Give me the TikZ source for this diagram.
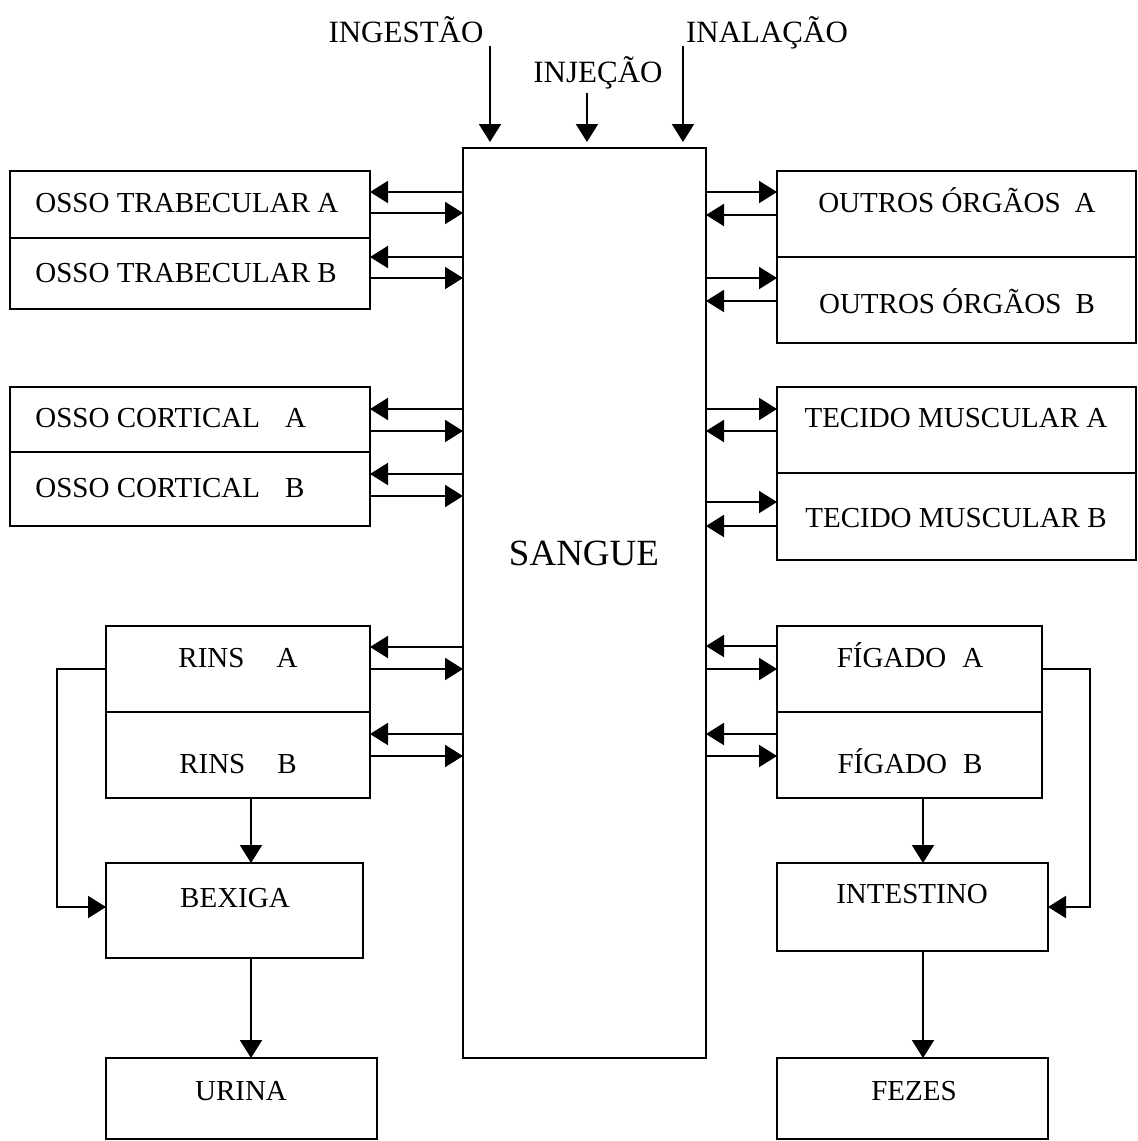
\documentclass[tikz,border=0pt]{standalone}
\usepackage{fontspec}
\setmainfont{Liberation Serif}
\usetikzlibrary{arrows.meta,fit}
\begin{document}
\begin{tikzpicture}[x=0.5pt,y=-0.5pt,
  box/.style={draw,line width=1pt,inner sep=0pt,outer sep=0pt},
  lbl/.style={inner sep=0pt,anchor=base,font=\fontsize{14.5}{17}\selectfont},
  lblw/.style={lbl,anchor=base west},
  toplbl/.style={inner sep=0pt,anchor=base,font=\fontsize{15.5}{18}\selectfont},
  arr/.style={line width=1pt,-{Triangle[length=9pt,width=11pt]}},
  plain/.style={line width=1pt}]
\useasboundingbox (0,0) rectangle (1138,1141);

% boxes
\node[box,fit={(463,148) (706,1058)}] (sangue) {};
\node[box,fit={(10,171) (370,238)}] (otA) {};
\node[box,fit={(10,238) (370,309)}] (otB) {};
\node[box,fit={(10,387) (370,452)}] (ocA) {};
\node[box,fit={(10,452) (370,526)}] (ocB) {};
\node[box,fit={(106,626) (370,712)}] (rA) {};
\node[box,fit={(106,712) (370,798)}] (rB) {};
\node[box,fit={(106,863) (363,958)}] (bex) {};
\node[box,fit={(106,1058) (377,1139)}] (uri) {};
\node[box,fit={(777,171) (1136,257)}] (ooA) {};
\node[box,fit={(777,257) (1136,343)}] (ooB) {};
\node[box,fit={(777,387) (1136,473)}] (tmA) {};
\node[box,fit={(777,473) (1136,560)}] (tmB) {};
\node[box,fit={(777,626) (1042,712)}] (fA) {};
\node[box,fit={(777,712) (1042,798)}] (fB) {};
\node[box,fit={(777,863) (1048,951)}] (int) {};
\node[box,fit={(777,1058) (1048,1139)}] (fez) {};

% labels
\node[toplbl] (tIng) at (406,42) {INGESTÃO};
\node[toplbl] (tInj) at (598,82) {INJEÇÃO};
\node[toplbl] (tIna) at (767,42) {INALAÇÃO};
\node[inner sep=0pt,anchor=base,font=\fontsize{18.5}{22}\selectfont] (tSang) at (584,565) {SANGUE};
\node[lblw] (tOtA) at (35,212) {OSSO TRABECULAR A};
\node[lblw] (tOtB) at (35,282) {OSSO TRABECULAR B};
\node[lblw] (tOcA) at (35,427) {OSSO CORTICAL\hspace{12.5pt}A};
\node[lblw] (tOcB) at (35,497) {OSSO CORTICAL\hspace{12.5pt}B};
\node[lbl] (tRA) at (238,667) {RINS\hspace{16pt}A};
\node[lbl] (tRB) at (238,773) {RINS\hspace{16pt}B};
\node[lbl] (tBex) at (235,907) {BEXIGA};
\node[lbl] (tUri) at (241,1100) {URINA};
\node[lbl] (tOoA) at (957,212) {OUTROS ÓRGÃOS\hspace{7pt}A};
\node[lbl] (tOoB) at (957,313) {OUTROS ÓRGÃOS\hspace{7pt}B};
\node[lbl] (tTmA) at (956,427) {TECIDO MUSCULAR A};
\node[lbl] (tTmB) at (956,527) {TECIDO MUSCULAR B};
\node[lbl] (tFA) at (910,667) {FÍGADO\hspace{8pt}A};
\node[lbl] (tFB) at (910,773) {FÍGADO\hspace{8pt}B};
\node[lbl] (tInt) at (912,903) {INTESTINO};
\node[lbl] (tFez) at (914,1100) {FEZES};

% intake arrows
\coordinate (cIng) at (490,46);
\coordinate (cInj) at (587,93);
\coordinate (cIna) at (683,46);
\draw[arr,shorten >=3pt] (cIng) -- (sangue.north -| cIng);
\draw[arr,shorten >=3pt] (cInj) -- (sangue.north -| cInj);
\draw[arr,shorten >=3pt] (cIna) -- (sangue.north -| cIna);

% left exchanges
\draw[arr] (sangue.west |- 0,192) -- (otA.east |- 0,192);
\draw[arr] (otA.east |- 0,213) -- (sangue.west |- 0,213);
\draw[arr] (sangue.west |- 0,257) -- (otB.east |- 0,257);
\draw[arr] (otB.east |- 0,278) -- (sangue.west |- 0,278);
\draw[arr] (sangue.west |- 0,409) -- (ocA.east |- 0,409);
\draw[arr] (ocA.east |- 0,431) -- (sangue.west |- 0,431);
\draw[arr] (sangue.west |- 0,474) -- (ocB.east |- 0,474);
\draw[arr] (ocB.east |- 0,496) -- (sangue.west |- 0,496);
\draw[arr] (sangue.west |- 0,647) -- (rA.east |- 0,647);
\draw[arr] (rA.east |- 0,669) -- (sangue.west |- 0,669);
\draw[arr] (sangue.west |- 0,734) -- (rB.east |- 0,734);
\draw[arr] (rB.east |- 0,756) -- (sangue.west |- 0,756);

% right exchanges
\draw[arr] (sangue.east |- 0,192) -- (ooA.west |- 0,192);
\draw[arr] (ooA.west |- 0,215) -- (sangue.east |- 0,215);
\draw[arr] (sangue.east |- 0,278) -- (ooB.west |- 0,278);
\draw[arr] (ooB.west |- 0,301) -- (sangue.east |- 0,301);
\draw[arr] (sangue.east |- 0,409) -- (tmA.west |- 0,409);
\draw[arr] (tmA.west |- 0,431) -- (sangue.east |- 0,431);
\draw[arr] (sangue.east |- 0,502) -- (tmB.west |- 0,502);
\draw[arr] (tmB.west |- 0,526) -- (sangue.east |- 0,526);
\draw[arr] (fA.west |- 0,646) -- (sangue.east |- 0,646);
\draw[arr] (sangue.east |- 0,669) -- (fA.west |- 0,669);
\draw[arr] (fB.west |- 0,734) -- (sangue.east |- 0,734);
\draw[arr] (sangue.east |- 0,756) -- (fB.west |- 0,756);

% excretion paths
\draw[arr] (rB.south -| 251,0) -- (bex.north -| 251,0);
\draw[arr] (bex.south -| 251,0) -- (uri.north -| 251,0);
\draw[arr] (rA.west |- 0,669) -- (57,669) -- (57,907) -- (bex.west |- 0,907);
\draw[arr] (fB.south -| 923,0) -- (int.north -| 923,0);
\draw[arr] (int.south -| 923,0) -- (fez.north -| 923,0);
\draw[arr] (fA.east |- 0,669) -- (1090,669) -- (1090,907) -- (int.east |- 0,907);
\end{tikzpicture}
\end{document}
